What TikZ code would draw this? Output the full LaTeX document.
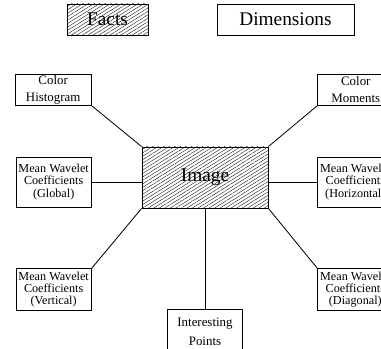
\documentclass[tikz,border=0pt]{standalone}
\usepackage{fontspec}
\setmainfont{Liberation Serif}
\usetikzlibrary{positioning,patterns.meta}

\begin{document}
\begin{tikzpicture}[x=0.03cm, y=-0.03cm,
         box/.style = {draw, line width=0.7pt, align=center, inner sep=1pt,
         font=\fontsize{11}{14.5}\selectfont},
         wavelet/.style = {box, minimum width=2.25cm,
         font=\fontsize{10.4}{10.4}\selectfont},
         fact/.style = {pattern={Lines[angle=32,distance=2.5pt,line width=0.3pt]}},
         big/.style = {font=\fontsize{16.5}{18}\selectfont},
         link/.style = {line width=0.7pt}
]

      \useasboundingbox (0,0) rectangle (381,349);
      \clip (0,0) rectangle (381,349);

      % legend
      \node[box, big, fact, minimum width=2.43cm, minimum height=0.93cm]
      (facts) at (107.5,19.5) {Facts};
      \node[box, big, minimum width=4.11cm, minimum height=0.93cm]
      (dims) at (285.5,19.5) {Dimensions};

      % fact table
      \node[box, big, fact, minimum width=3.78cm, minimum height=1.83cm]
      (img) at (205,177.5) {Image};

      % dimensions
      \node[box, minimum width=2.28cm, minimum height=0.93cm,
      above left=1.23cm and 1.5cm of img.north west]
      (hist) {Color\\Histogram};
      \node[box, minimum width=2.28cm, minimum height=0.93cm,
      above right=1.23cm and 1.47cm of img.north east]
      (moments) {Color\\Moments};

      \node[wavelet, minimum height=1.5cm, left=1.5cm of img, yshift=-0.135cm]
      (global) {Mean Wavelet\\Coefficients\\(Global)};
      \node[wavelet, minimum height=1.5cm, right=1.47cm of img, yshift=-0.135cm]
      (horiz) {Mean Wavelet\\Coefficients\\(Horizontal)};

      \node[wavelet, minimum height=1.26cm,
      below left=1.8cm and 1.5cm of img.south west]
      (vert) {Mean Wavelet\\Coefficients\\(Vertical)};
      \node[wavelet, minimum height=1.26cm,
      below right=1.8cm and 1.47cm of img.south east]
      (diag) {Mean Wavelet\\Coefficients\\(Diagonal)};

      \node[box, font=\fontsize{11}{17}\selectfont, minimum width=2.25cm,
      minimum height=1.32cm, below=3.03cm of img]
      (points) {Interesting\\Points};

      % links
      \draw[link] (hist.south east) -- (img.north west);
      \draw[link] (moments.south west) -- (img.north east);
      \draw[link] (global.east) -- (global.east -| img.west);
      \draw[link] (horiz.west) -- (horiz.west -| img.east);
      \draw[link] (vert.north east) -- (img.south west);
      \draw[link] (diag.north west) -- (img.south east);
      \draw[link] (points.north) -- (img.south);

\end{tikzpicture}
\end{document}
